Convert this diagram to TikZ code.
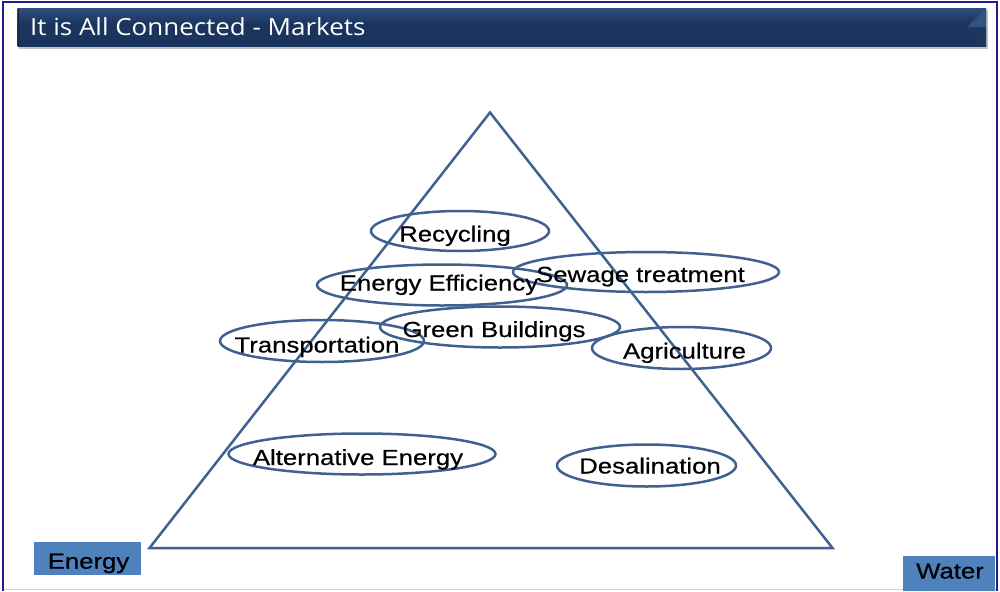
\documentclass[tikz,border=0pt]{standalone}
\usepackage{fontspec}
\setmainfont{Liberation Sans}
\newfontfamily\headfont{Open Sans}[FakeStretch=1.1]
\newfontfamily\wordfont{Liberation Sans}[FakeStretch=1.18,FakeBold=0.5]
\usetikzlibrary{shapes.geometric}

\definecolor{framenavy}{RGB}{28,28,140}
\definecolor{framelav}{RGB}{205,205,240}
\definecolor{bartop}{RGB}{112,142,190}
\definecolor{barmid}{RGB}{52,84,132}
\definecolor{barbot}{RGB}{26,52,94}
\definecolor{bevelhi}{RGB}{52,82,126}
\definecolor{bevello}{RGB}{30,56,98}
\definecolor{shadowgray}{RGB}{190,196,206}
\definecolor{lineblue}{RGB}{64,97,143}
\definecolor{tagblue}{RGB}{79,129,189}

\pgfdeclareverticalshading{titlebar}{100bp}{color(0bp)=(barbot); color(55bp)=(barbot); color(80bp)=(barmid); color(100bp)=(bartop)}

\begin{document}
\begin{tikzpicture}[x=1pt,y=-1pt,
  market/.style={ellipse, draw=lineblue, line width=2.5pt, inner sep=0pt},
  word/.style={anchor=base, inner sep=0pt, text=black, font=\wordfont\fontsize{21.8}{26}\selectfont},
  tag/.style={fill=tagblue, inner sep=0pt, anchor=north west},
]
\useasboundingbox (0,0) rectangle (1000,591);

% outer frame
\draw[framelav, line width=1.5pt] (3,589.5) -- (997,589.5);
\draw[framenavy, line width=2pt] (3,591) -- (3,2.5) -- (997,2.5) -- (997,591);

% title bar with drop shadow and bevelled right end
\fill[shadowgray] (19,10.5) rectangle (988,48.8);
\shade[shading=titlebar] (17.5,8.3) rectangle (986,46.7);
\fill[bevelhi] (966.7,27.5) -- (986,8.3) -- (986,27.5) -- cycle;
\fill[bevello] (966.7,27.5) -- (986,27.5) -- (986,46.7) -- cycle;
\draw[barbot!80!black, line width=0.8pt] (17.9,8.3) -- (17.9,46.7);
\node[anchor=base west, inner sep=0pt, text=white,
      font=\headfont\fontsize{23.6}{28}\selectfont] (title) at (30,36)
      {It is All Connected - Markets};

% the triangle
\coordinate (apex) at (490,112.5);
\coordinate (energycorner) at (149.5,548);
\coordinate (watercorner) at (832.5,548);
\draw[lineblue, line width=2.5pt, line join=miter] (apex) -- (energycorner) -- (watercorner) -- cycle;

% market ellipses
\node[market, minimum width=178pt, minimum height=40pt] (recycling) at (460,231) {};
\node[market, minimum width=266pt, minimum height=40pt] (sewage) at (646,272) {};
\node[market, minimum width=250pt, minimum height=41pt] (efficiency) at (442,285) {};
\node[market, minimum width=240pt, minimum height=41pt] (buildings) at (500,327) {};
\node[market, minimum width=204pt, minimum height=42pt] (transport) at (322,341) {};
\node[market, minimum width=179pt, minimum height=42pt] (agriculture) at (681.5,348) {};
\node[market, minimum width=267pt, minimum height=41pt] (alternative) at (362,454) {};
\node[market, minimum width=179pt, minimum height=42pt] (desalination) at (646.5,465.5) {};

% market names
\node[word] (recyclingtext) at (455,241.5) {Recycling};
\node[word] (efficiencytext) at (439,290.5) {Energy Efficiency};
\node[word] (sewagetext) at (640.5,282) {Sewage treatment};
\node[word] (buildingstext) at (494,337) {Green Buildings};
\node[word] (transporttext) at (317,352.5) {Transportation};
\node[word] (agriculturetext) at (684.5,358.5) {Agriculture};
\node[word] (alternativetext) at (358,465) {Alternative Energy};
\node[word] (desalinationtext) at (650,473.5) {Desalination};

% corner tags
\node[tag, minimum width=107pt, minimum height=33pt] (energytag) at (34,542) {};
\node[word] (energytext) at (88.5,568.7) {Energy};
\node[tag, minimum width=92pt, minimum height=35pt] (watertag) at (903,556) {};
\node[word] (watertext) at (950,578.5) {Water};
\end{tikzpicture}
\end{document}
